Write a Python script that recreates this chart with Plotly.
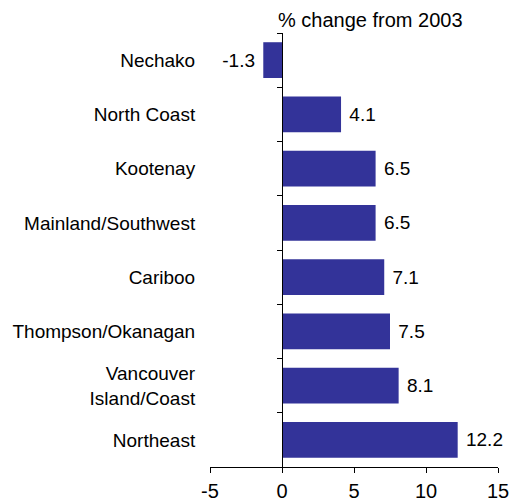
import plotly.graph_objects as go

regions = ["Nechako", "North Coast", "Kootenay", "Mainland/Southwest", "Cariboo",
           "Thompson/Okanagan", "Vancouver<br>Island/Coast", "Northeast"]
values = [-1.3, 4.1, 6.5, 6.5, 7.1, 7.5, 8.1, 12.2]
value_labels = ["-1.3", "4.1", "6.5", "6.5", "7.1", "7.5", "8.1", "12.2"]
x_ticks = [-5, 0, 5, 10, 15]
title_text = "% change from 2003"

FONT = "Liberation Sans, Arial, sans-serif"
FS = 19

fig = go.Figure(go.Bar(
    x=values, y=regions, orientation="h",
    marker=dict(color="#333399", line=dict(width=0)),
    width=0.66,
    text=value_labels, textposition="outside", cliponaxis=False,
    texttemplate="\u00a0%{text}\u00a0",
    textfont=dict(family=FONT, size=FS, color="black"),
))

fig.update_layout(
    width=510, height=501,
    margin=dict(l=210, r=12, t=33, b=34, autoexpand=False),
    paper_bgcolor="white", plot_bgcolor="white",
    font=dict(family=FONT, size=FS, color="black"),
    showlegend=False,
    xaxis=dict(range=[-5, 15], tickvals=x_ticks, ticktext=[str(v) for v in x_ticks],
               showgrid=False, zeroline=False, automargin=False,
               tickfont=dict(size=20),
               showline=True, linecolor="black", linewidth=1,
               ticks="outside", ticklen=5, tickcolor="black", ticklabelstandoff=1),
    yaxis=dict(type="category", categoryorder="array", categoryarray=regions,
               autorange="reversed", showgrid=False, zeroline=False, automargin=False,
               anchor="free", position=0.25,
               showline=True, linecolor="black", linewidth=1,
               ticks="outside", ticklen=5, tickcolor="black", tickson="boundaries",
               ticklabelstandoff=83),
    bargap=0.34,
    annotations=[dict(text=title_text, xref="paper", yref="paper",
                      x=(370 - 210) / 288, y=1, xanchor="center", yanchor="bottom",
                      yshift=0, showarrow=False,
                      font=dict(family=FONT, size=20, color="black"))],
)

# remove the page's default body margin so the figure fills the 510x501 window exactly
fig.write_html("out.html", config={"displayModeBar": False},
               post_script="document.body.style.margin='0';document.body.style.overflow='hidden';")
